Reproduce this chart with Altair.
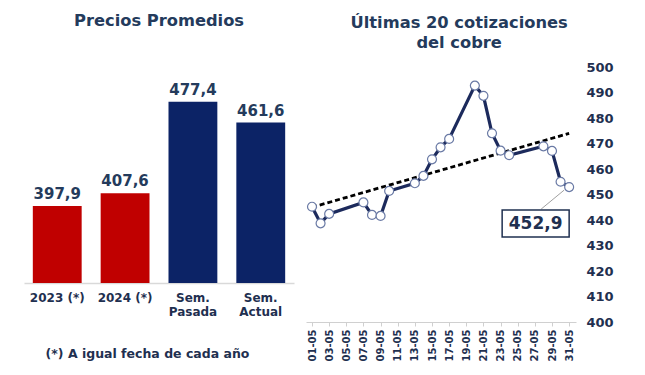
import altair as alt
import pandas as pd

# ---- data ----
bar_categories = ["2023 (*)", "2024 (*)", "Sem. Pasada", "Sem. Actual"]
bar_values = [397.9, 407.6, 477.4, 461.6]

days = [1, 2, 3, 7, 8, 9, 10, 13, 14, 15, 16, 17, 20, 21, 22, 23, 24, 28, 29, 30, 31]
prices = [445.2, 438.7, 442.4, 446.9, 442.0, 441.6, 451.4, 454.4, 457.3, 463.8, 468.5,
          471.8, 492.7, 488.7, 474.0, 467.2, 465.4, 468.9, 467.1, 455.0, 452.9]
y_ticks = list(range(400, 501, 10))
x_ticks = list(range(1, 32, 2))

FONT = "DejaVu Sans"
NAVY_TXT = "#1f3050"
TITLE_C = "#243b5c"

# ---- left: Precios Promedios ----
bars_df = pd.DataFrame({
    "cat": bar_categories,
    "val": bar_values,
    "label": [f"{v:.1f}".replace(".", ",") for v in bar_values],
})

base_l = alt.Chart(bars_df).encode(
    x=alt.X("cat:N", sort=bar_categories,
            scale=alt.Scale(paddingInner=0.28, paddingOuter=0.13),
            axis=alt.Axis(title="(*) A igual fecha de cada año", labelAngle=0,
                          labelExpr="substring(datum.label,0,4)=='Sem.' ? split(datum.label,' ') : datum.label",
                          labelFont=FONT, labelFontSize=12, labelFontWeight="bold",
                          labelColor=NAVY_TXT, labelLineHeight=14, labelPadding=9,
                          ticks=False, domainColor="#d9d9d9", domainWidth=1.5,
                          titleFont=FONT, titleFontSize=12.5, titleFontWeight="bold",
                          titleColor=NAVY_TXT, titlePadding=30, titleX=123)),
    y=alt.Y("val:Q", scale=alt.Scale(domain=[339, 504], zero=False, nice=False), axis=None),
)
bars = base_l.mark_bar(clip=True).encode(
    color=alt.Color("cat:N", scale=alt.Scale(domain=bar_categories,
                                             range=["#c00000", "#c00000", "#0c2366", "#0c2366"]),
                    legend=None)
)
bar_text = base_l.mark_text(dy=-12, fontSize=15, fontWeight="bold", font=FONT,
                            color=TITLE_C).encode(text="label:N")

left = (bars + bar_text).properties(
    width=270, height=216,
    title=alt.TitleParams("Precios Promedios", fontSize=16.3, font=FONT, fontWeight="bold",
                          color=TITLE_C, offset=38, anchor="middle", frame="bounds"),
)

# ---- right: Últimas 20 cotizaciones del cobre ----
line_df = pd.DataFrame({"day": days, "price": prices})
ann_df = line_df.tail(1).assign(label=[f"{prices[-1]:.1f}".replace(".", ",")])

x_r = alt.X("day:Q", scale=alt.Scale(domain=[0.3, 31.8], nice=False, zero=False),
            axis=alt.Axis(values=x_ticks, title=None, grid=False,
                          labelExpr="(datum.value < 10 ? '0' : '') + datum.value + '-05'",
                          labelAngle=-90, labelFont=FONT, labelFontSize=10,
                          labelFontWeight="bold", labelColor=NAVY_TXT, labelPadding=3,
                          domainColor="#d0d0d0", tickColor="#d0d0d0", tickSize=4))
y_r = alt.Y("price:Q", scale=alt.Scale(domain=[400, 500], nice=False, zero=False),
            axis=alt.Axis(orient="right", values=y_ticks, title=None, grid=False,
                          domain=False, ticks=False, tickSize=0, labelFont=FONT,
                          labelFontSize=13, labelFontWeight="bold", labelColor=NAVY_TXT,
                          labelPadding=10))

base_r = alt.Chart(line_df).encode(x=x_r, y=y_r)
line = base_r.mark_line(color="#1c2a5c", strokeWidth=3.2)
trend = base_r.transform_regression("day", "price").mark_line(
    color="black", strokeDash=[5, 3], strokeWidth=2.8)
pts = base_r.mark_circle(size=80, color="white", stroke="#6a7aa5", strokeWidth=1.2, opacity=1)

base_a = alt.Chart(ann_df).encode(x=x_r, y=y_r)
leader = base_a.mark_point(shape="M -0.1 0.06 L -0.56 0.44", size=10000,
                           stroke="#a0a0a0", strokeWidth=1, filled=False, opacity=1)
box = base_a.mark_point(shape="M -1.34 0.46 L 0 0.46 L 0 1.0 L -1.34 1.0 Z", size=10000,
                        fill="white", stroke=NAVY_TXT, strokeWidth=1.5, opacity=1, fillOpacity=1)
box_text = base_a.mark_text(dx=-33.5, dy=36.5, fontSize=17, fontWeight="bold", font=FONT,
                            color=NAVY_TXT).encode(text="label:N")

right = (line + trend + leader + pts + box + box_text).properties(
    width=270, height=255,
    title=alt.TitleParams(["Últimas 20 cotizaciones", "del cobre"], fontSize=16.3, font=FONT,
                          fontWeight="bold", color=TITLE_C, lineHeight=20, offset=10,
                          anchor="middle", frame="bounds"),
)

chart = alt.hconcat(left, right, spacing=11).properties(
    padding={"left": 16, "top": 4, "right": 5, "bottom": 5},
    background="white",
).configure(font=FONT).configure_view(stroke=None)

chart.save("out.html", embed_options={"renderer": "svg", "actions": False})
